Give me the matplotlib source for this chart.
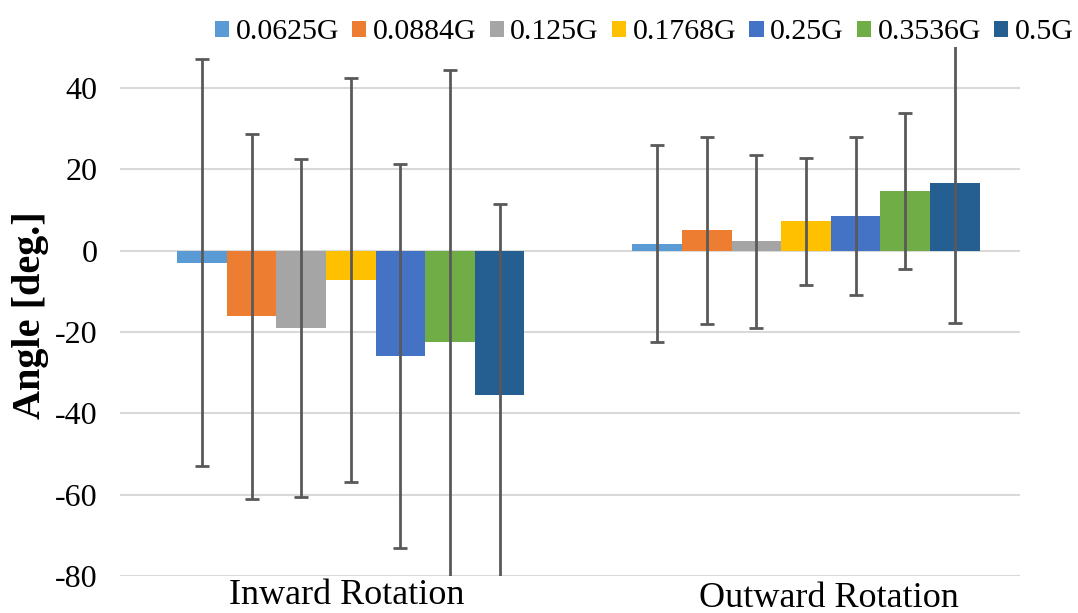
import matplotlib
matplotlib.use("Agg")
import matplotlib.pyplot as plt
import matplotlib.transforms as mtransforms
import numpy as np

categories = ["Inward Rotation", "Outward Rotation"]
series = ["0.0625G", "0.0884G", "0.125G", "0.1768G", "0.25G", "0.3536G", "0.5G"]
inward_means = [-3.0, -16.2, -19.1, -7.2, -26.0, -22.4, -35.4]
inward_errs = [50.0, 44.8, 41.6, 49.6, 47.2, 66.9, 46.8]
outward_means = [1.7, 5.0, 2.3, 7.2, 8.5, 14.7, 16.6]
outward_errs = [24.2, 23.0, 21.3, 15.6, 19.5, 19.1, 34.5]
colors = ["#5B9BD5", "#ED7D31", "#A5A5A5", "#FFC000", "#4472C4", "#70AD47", "#255E91"]
yticks = [-80, -60, -40, -20, 0, 20, 40]

plt.rcParams['font.family'] = ['Liberation Serif', 'DejaVu Serif']

fig = plt.figure(figsize=(10.78, 6.13), dpi=100)
ax = fig.add_axes([0.111, 0.0604, 0.835, 0.8625])

x = np.arange(len(categories))
w = 0.109
n = len(series)
for i, s in enumerate(series):
    pos = x + (i - (n - 1) / 2) * w
    vals = [inward_means[i], outward_means[i]]
    errs = [inward_errs[i], outward_errs[i]]
    ax.bar(pos, vals, width=w, color=colors[i], label=s, zorder=2)
    ax.errorbar(pos, vals, yerr=errs, fmt='none', ecolor='#595959',
                elinewidth=2, capsize=5, capthick=2, zorder=3)

ax.set_ylim(-80, 50)
ax.set_xlim(-0.508, 1.47)
ax.set_yticks(yticks)
ax.set_yticklabels([str(t) for t in yticks], fontsize=23)
ax.set_xticks(x)
ax.set_xticklabels(categories, fontsize=26)
ax.tick_params(axis='x', length=0, pad=2)
ax.tick_params(axis='y', length=0, pad=16)
# shift labels slightly as in reference
lbls = ax.get_xticklabels()
lbls[0].set_transform(lbls[0].get_transform() +
                      mtransforms.ScaledTranslation(-4 / 100, 0, fig.dpi_scale_trans))
lbls[1].set_transform(lbls[1].get_transform() +
                      mtransforms.ScaledTranslation(23 / 100, -3 / 100, fig.dpi_scale_trans))
for sp in ax.spines.values():
    sp.set_visible(False)
ax.yaxis.grid(True, color='#D9D9D9', linewidth=1.5, zorder=0)
ax.set_axisbelow(True)
ax.set_ylabel("Angle [deg.]", fontsize=29, fontweight='bold')
ax.yaxis.set_label_coords(-0.078, 0.494)

fig.legend(loc='upper right', bbox_to_anchor=(1.014, 1.0), ncol=7, frameon=False,
           fontsize=21.5, handlelength=0.47, handleheight=0.47, handletextpad=0.22,
           columnspacing=0.44, borderaxespad=0.25)

fig.savefig("out.png", dpi=100)
